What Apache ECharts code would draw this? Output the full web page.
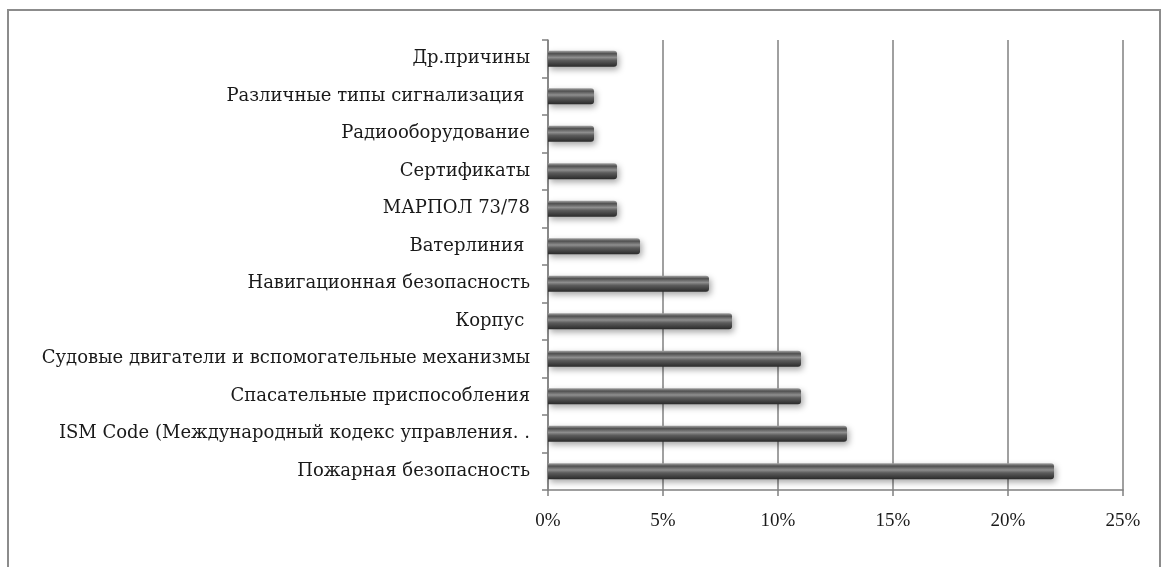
<!DOCTYPE html>
<html>
<head>
<meta charset="utf-8">
<script src="https://cdn.jsdelivr.net/npm/echarts@6/dist/echarts.min.js"></script>
<style>
    html, body { margin: 0; padding: 0; background: #fff; }
    #chart { width: 1163px; height: 567px; }
</style>
</head>
<body>
<div id="chart"></div>
<script>
// categories, top to bottom as in the picture
var categories = [
    'Др.причины',
    'Различные типы сигнализация ',
    'Радиооборудование',
    'Сертификаты',
    'МАРПОЛ 73/78',
    'Ватерлиния ',
    'Навигационная безопасность',
    'Корпус ',
    'Судовые двигатели и вспомогательные механизмы',
    'Спасательные приспособления',
    'ISM Code (Международный кодекс управления. .',
    'Пожарная безопасность'
];
// share of deficiencies, %
var shares = [3, 2, 2, 3, 3, 4, 7, 8, 11, 11, 13, 22];
var xTicks = [0, 5, 10, 15, 20, 25];

var myChart = echarts.init(document.getElementById('chart'));

var barColor = new echarts.graphic.LinearGradient(0, 0, 0, 1, [
    {offset: 0, color: '#a5a5a5'},
    {offset: 0.18, color: '#505050'},
    {offset: 0.42, color: '#8e8e8e'},
    {offset: 0.6, color: '#5c5c5c'},
    {offset: 1, color: '#2a2a2a'}
]);

var option = {
    animation: false,
    textStyle: {fontFamily: 'Liberation Serif'},
    graphic: [{
        type: 'rect',
        shape: {x: 8, y: 10, width: 1152, height: 600},
        style: {fill: 'none', stroke: '#8c8c8c', lineWidth: 2},
        silent: true
    }],
    grid: {left: 548, right: 40, top: 40, bottom: 77},
    xAxis: {
        type: 'value',
        min: xTicks[0],
        max: xTicks[xTicks.length - 1],
        interval: 5,
        axisLine: {show: true, lineStyle: {color: '#808080', width: 1.5}},
        axisTick: {show: true, length: 6, lineStyle: {color: '#808080', width: 1.5}},
        splitLine: {show: true, lineStyle: {color: '#808080', width: 1.5}},
        axisLabel: {
            margin: 22,
            color: '#1a1a1a',
            fontSize: 19,
            fontFamily: 'Liberation Serif',
            formatter: '{value}%'
        }
    },
    yAxis: {
        type: 'category',
        inverse: true,
        data: categories,
        axisLine: {show: true, lineStyle: {color: '#808080', width: 1.5}},
        axisTick: {show: true, length: 6, lineStyle: {color: '#808080', width: 1.5}},
        axisLabel: {
            margin: 18,
            color: '#1a1a1a',
            fontSize: 18,
            fontFamily: 'DejaVu Serif'
        }
    },
    series: [{
        type: 'bar',
        data: shares,
        barWidth: 16,
        itemStyle: {
            color: barColor,
            borderRadius: [0, 3, 3, 0],
            shadowBlur: 6,
            shadowOffsetY: 3,
            shadowOffsetX: 2,
            shadowColor: 'rgba(0,0,0,0.35)'
        }
    }]
};

myChart.setOption(option);
</script>
</body>
</html>
